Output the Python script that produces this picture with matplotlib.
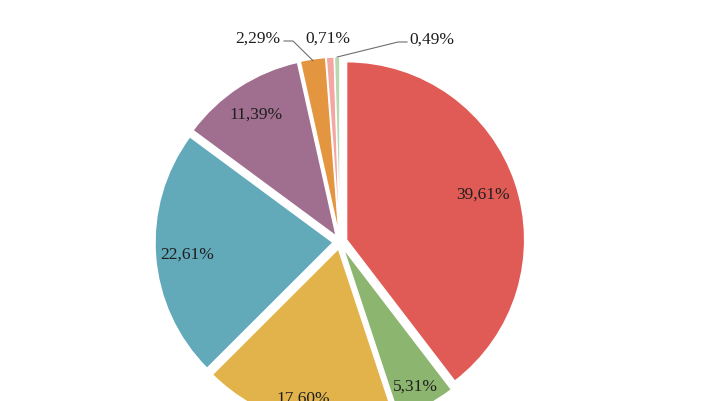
import numpy as np
import matplotlib
matplotlib.use("Agg")
import matplotlib.pyplot as plt

# shares in percent, clockwise from 12 o'clock
values = [39.61, 5.31, 17.60, 22.61, 11.39, 2.29, 0.71, 0.49]
labels = ["39,61%", "5,31%", "17,60%", "22,61%", "11,39%", "2,29%", "0,71%", "0,49%"]
colors = ["#E15B56", "#8CB66F", "#E2B34A", "#62A9BA",
          "#A06E8F", "#E3953F", "#F5A6A3", "#B8D8B0"]


def main():
    plt.rcParams["font.family"] = ["Liberation Serif", "DejaVu Serif"]

    fig = plt.figure(figsize=(7.14, 4.02), dpi=100)
    ax = fig.add_axes([0, 0, 1, 1])

    # pie drawn in pixel-like coordinates
    cx, cy, R = 340, 159, 178
    # explode is an absolute offset here (same units as the radius)
    wedges, _ = ax.pie(
        values,
        colors=colors,
        startangle=90,
        counterclock=False,
        explode=[7] * len(values),
        center=(cx, cy),
        radius=R,
        frame=True,
        wedgeprops=dict(edgecolor="white", linewidth=1.0),
    )

    # labels inside the big wedges
    inner = {0: 0.85, 1: 0.91, 2: 0.90, 3: 0.86, 4: 0.86}
    for i, frac in inner.items():
        w = wedges[i]
        mid = np.deg2rad((w.theta1 + w.theta2) / 2)
        x = cx + frac * R * np.cos(mid)
        y = cy + frac * R * np.sin(mid)
        ax.text(x, y, labels[i], ha="center", va="center",
                fontsize=12.5, color="#1f1f1f")

    # labels for the thin wedges on top
    outer_pos = {5: (258, 363), 6: (328, 363), 7: (432, 362)}
    for i, (tx, ty) in outer_pos.items():
        ax.text(tx, ty, labels[i], ha="center", va="center",
                fontsize=12.5, color="#1f1f1f")

    # leader lines
    def tip(i, f=1.0):
        w = wedges[i]
        mid = np.deg2rad((w.theta1 + w.theta2) / 2)
        wx, wy = w.center
        return wx + f * R * np.cos(mid), wy + f * R * np.sin(mid)

    x5, y5 = tip(5, 0.99)
    ax.plot([284, 293, x5], [360, 360, y5], color="#6f6f6f", lw=0.8)
    x7, y7 = tip(7, 1.0)
    ax.plot([407, 398, x7], [359, 359, y7], color="#6f6f6f", lw=0.8)

    ax.set_xlim(0, 714)
    ax.set_ylim(0, 402)
    ax.set_aspect("equal")
    ax.axis("off")

    fig.savefig("out.png", dpi=100, facecolor="white")


if __name__ == "__main__":
    main()
